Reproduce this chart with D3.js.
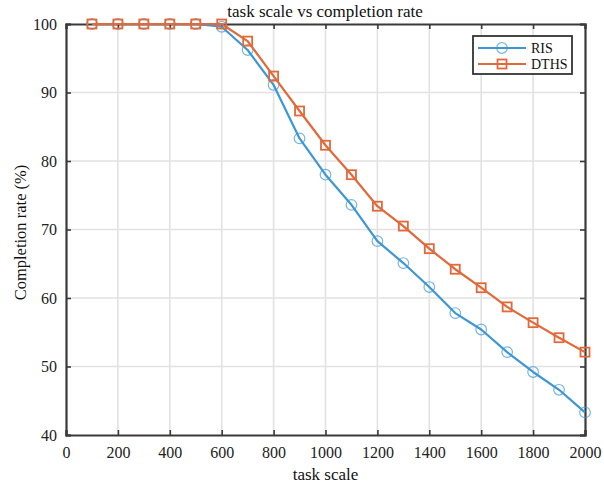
<!DOCTYPE html>
<html>
<head>
<meta charset="utf-8">
<script src="https://cdn.jsdelivr.net/npm/d3@7"></script>
<style>
  html, body { margin: 0; padding: 0; background: #fff; }
  svg { display: block; font-family: "Liberation Serif", "DejaVu Serif", serif; }
</style>
</head>
<body>
<svg id="chart" width="604" height="488"></svg>
<script>
// Task scale (x) and completion rate (%) for each scheme
const taskScale = [100, 200, 300, 400, 500, 600, 700, 800, 900, 1000,
                   1100, 1200, 1300, 1400, 1500, 1600, 1700, 1800, 1900, 2000];
const risRate  = [100, 100, 100, 100, 100, 99.6, 96.2, 91.1, 83.3, 78.0,
                  73.6, 68.3, 65.1, 61.6, 57.8, 55.4, 52.1, 49.2, 46.6, 43.3];
const dthsRate = [100, 100, 100, 100, 100, 100, 97.5, 92.4, 87.3, 82.3,
                  78.0, 73.4, 70.5, 67.2, 64.2, 61.5, 58.7, 56.4, 54.2, 52.1];
const xTicks = [0, 200, 400, 600, 800, 1000, 1200, 1400, 1600, 1800, 2000];
const yTicks = [40, 50, 60, 70, 80, 90, 100];
const seriesNames = ["RIS", "DTHS"];
const chartTitle = "task scale vs completion rate";
const xTitle = "task scale";
const yTitle = "Completion rate (%)";

const blue = "#3d97d6";
const orange = "#e2693a";

const svg = d3.select("#chart");
const m = { left: 66, right: 585, top: 24, bottom: 435 };

const x = d3.scaleLinear().domain([0, 2000]).range([m.left, m.right]);
const y = d3.scaleLinear().domain([40, 100]).range([m.bottom, m.top]);

// grid
const grid = svg.append("g");
grid.selectAll(".vg").data(xTicks.slice(1, -1)).join("line")
  .attr("x1", d => x(d)).attr("x2", d => x(d))
  .attr("y1", m.top).attr("y2", m.bottom)
  .attr("stroke", "#e2e2e2").attr("stroke-width", 1.6);
grid.selectAll(".hg").data(yTicks.slice(1, -1)).join("line")
  .attr("x1", m.left).attr("x2", m.right)
  .attr("y1", d => y(d)).attr("y2", d => y(d))
  .attr("stroke", "#e2e2e2").attr("stroke-width", 1.6);

// axes (ticks point inward, mirrored on top/right)
const tickLen = 5;
const axStroke = "#3a3a3a";
const xb = svg.append("g").attr("transform", `translate(0,${m.bottom})`)
  .call(d3.axisBottom(x).tickValues(xTicks).tickSize(-tickLen).tickPadding(12).tickFormat(d3.format("d")));
const xt = svg.append("g").attr("transform", `translate(0,${m.top})`)
  .call(d3.axisTop(x).tickValues(xTicks).tickSize(-tickLen).tickFormat(""));
const yl = svg.append("g").attr("transform", `translate(${m.left},0)`)
  .call(d3.axisLeft(y).tickValues(yTicks).tickSize(-tickLen).tickPadding(9).tickFormat(d3.format("d")));
const yr = svg.append("g").attr("transform", `translate(${m.right},0)`)
  .call(d3.axisRight(y).tickValues(yTicks).tickSize(-tickLen).tickFormat(""));

[xb, xt, yl, yr].forEach(g => {
  g.select(".domain").attr("stroke", axStroke).attr("stroke-width", 2.2);
  g.selectAll(".tick line").attr("stroke", axStroke).attr("stroke-width", 1.6);
  g.selectAll("text").attr("fill", "#222").style("font-size", "16px")
    .style("font-family", "'Liberation Serif', serif");
});

// lines
const line = d3.line().x((d, i) => x(taskScale[i])).y(d => y(d));

function drawSeries(vals, color, shape) {
  svg.append("path").datum(vals)
    .attr("d", line).attr("fill", "none")
    .attr("stroke", color).attr("stroke-width", 2.2).attr("stroke-linejoin", "round");
  const g = svg.append("g");
  if (shape === "circle") {
    g.selectAll("circle").data(vals).join("circle")
      .attr("cx", (d, i) => x(taskScale[i])).attr("cy", d => y(d)).attr("r", 5.3)
      .attr("fill", "none").attr("stroke", color).attr("stroke-width", 1.2).attr("opacity", 0.7);
  } else {
    g.selectAll("rect").data(vals).join("rect")
      .attr("x", (d, i) => x(taskScale[i]) - 4.5).attr("y", d => y(d) - 4.5)
      .attr("width", 9).attr("height", 9)
      .attr("fill", "none").attr("stroke", color).attr("stroke-width", 1.8);
  }
}
drawSeries(risRate, blue, "circle");
drawSeries(dthsRate, orange, "square");

// title and axis labels
svg.append("text").attr("x", 325).attr("y", 17).attr("text-anchor", "middle")
  .style("font-size", "17px").attr("fill", "#111").text(chartTitle);
svg.append("text").attr("x", (m.left + m.right) / 2).attr("y", 480).attr("text-anchor", "middle")
  .style("font-size", "17px").attr("fill", "#111").text(xTitle);
svg.append("text").attr("transform", `translate(26,${(m.top + m.bottom) / 2 + 3}) rotate(-90)`)
  .attr("text-anchor", "middle").style("font-size", "16.5px").attr("fill", "#111").text(yTitle);

// legend
const lg = svg.append("g");
lg.append("rect").attr("x", 473).attr("y", 36).attr("width", 99).attr("height", 38)
  .attr("fill", "#fff").attr("stroke", "#333").attr("stroke-width", 1.8);
const legendItems = [
  { name: seriesNames[0], color: blue, shape: "circle", yy: 48 },
  { name: seriesNames[1], color: orange, shape: "square", yy: 64 }
];
legendItems.forEach(it => {
  lg.append("line").attr("x1", 478).attr("x2", 526).attr("y1", it.yy).attr("y2", it.yy)
    .attr("stroke", it.color).attr("stroke-width", 2.2);
  if (it.shape === "circle") {
    lg.append("circle").attr("cx", 502).attr("cy", it.yy).attr("r", 5.3)
      .attr("fill", "none").attr("stroke", it.color).attr("stroke-width", 1.2).attr("opacity", 0.7);
  } else {
    lg.append("rect").attr("x", 497.5).attr("y", it.yy - 4.5).attr("width", 9).attr("height", 9)
      .attr("fill", "none").attr("stroke", it.color).attr("stroke-width", 1.8);
  }
  lg.append("text").attr("x", 531).attr("y", it.yy + 5).style("font-size", "14px")
    .attr("fill", "#111").text(it.name);
});
</script>
</body>
</html>
